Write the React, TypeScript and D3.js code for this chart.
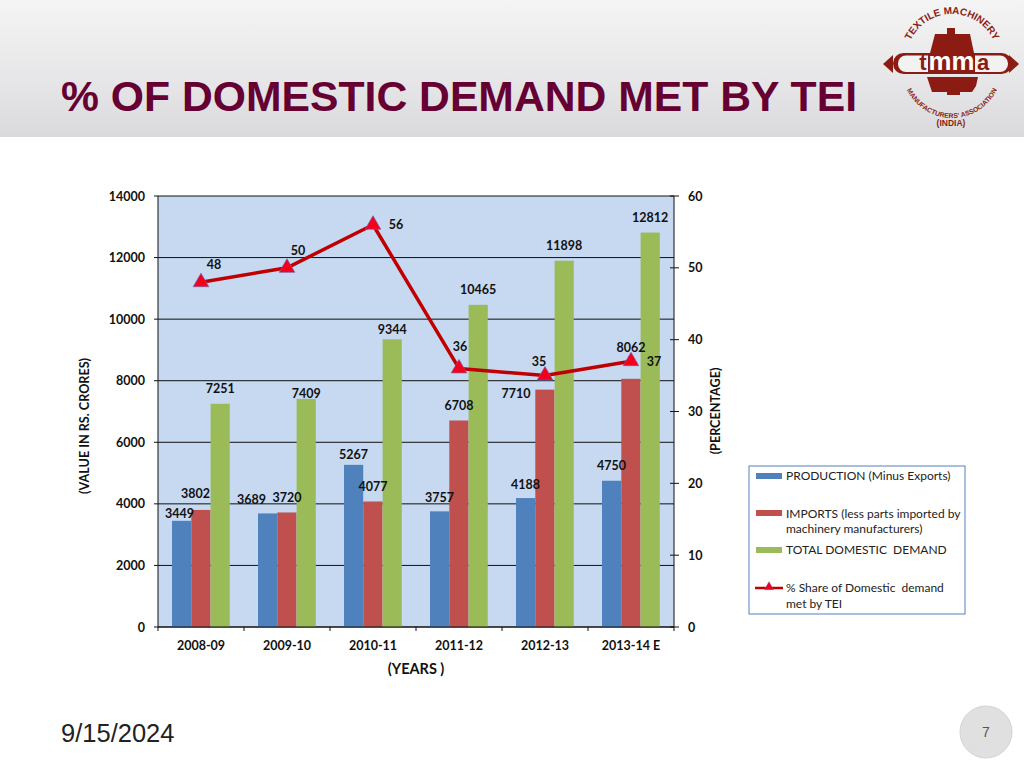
import React from "react";
import * as d3 from "d3";

const categories = ["2008-09", "2009-10", "2010-11", "2011-12", "2012-13", "2013-14 E"];
const production = [3449, 3689, 5267, 3757, 4188, 4750];
const imports = [3802, 3720, 4077, 6708, 7710, 8062];
const demand = [7251, 7409, 9344, 10465, 11898, 12812];
const share = [48, 50, 56, 36, 35, 37];
const leftTicks = [0, 2000, 4000, 6000, 8000, 10000, 12000, 14000];
const rightTicks = [0, 10, 20, 30, 40, 50, 60];

// label offsets in pixels from the top-centre of each mark
const prodLabelOff: [number, number][] = [[-2, -7], [-16, -14], [0, -10], [0, -14], [0, -14], [0, -15]];
const impLabelOff: [number, number][] = [[-5.5, -16], [0, -14.5], [0, -14.5], [0, -14.5], [-29, 3.5], [0, -31]];
const demLabelOff: [number, number][] = [[0, -15], [0, -5], [0, -10], [0, -15], [0, -15], [0, -15]];
const shareLabelOff: [number, number][] = [[13, -18], [11, -17], [23, 0], [1, -22], [-6, -14], [23, 0]];

const LABEL = "Lato, 'Open Sans', sans-serif";
const ARIAL = "'Liberation Sans', Arial, sans-serif";

const colors = { prod: "#4f81bd", imp: "#c0504d", dem: "#9bbb59", line: "#c00000" };

function Logo() {
  const c = "#8c1c13";
  return (
    <g>
      <defs>
        <path id="arcTop" d="M 906 60 A 46 46 0 0 1 998 60" fill="none" />
        <path id="arcBot" d="M 903 78 A 50 50 0 0 0 1001 78" fill="none" />
      </defs>
      <polygon points="947,28 955,28 955,34 970,34 974,53 930,53 935,34 947,34" fill={c} />
      <polygon points="927,77 978,77 976,86 972,92 960,92 960,95 947,95 947,92 932,92" fill={c} />
      <polygon points="883,64 893,55 893,73" fill={c} />
      <polygon points="1019,64 1009,55 1009,73" fill={c} />
      <rect x="893" y="53" width="119" height="21" rx="10.5" fill={c} />
      <rect x="898" y="55.5" width="110" height="16.5" rx="8" fill="#f2f2f2" />
      <rect x="928" y="53" width="47" height="21" fill={c} />
      <text x="951.5" y="70" textAnchor="middle" fontFamily={ARIAL} fontWeight="700" fontSize="25" fill="#fff" textLength="46" lengthAdjust="spacingAndGlyphs">mm</text>
      <text x="923" y="70" textAnchor="middle" fontFamily={ARIAL} fontWeight="700" fontSize="22" fill={c}>t</text>
      <text x="983" y="70" textAnchor="middle" fontFamily={ARIAL} fontWeight="700" fontSize="22" fill={c}>a</text>
      <text fontFamily={ARIAL} fontWeight="700" fontSize="10" fill={c}>
        <textPath href="#arcTop" startOffset="50%" textAnchor="middle">TEXTILE MACHINERY</textPath>
      </text>
      <text fontFamily={ARIAL} fontWeight="700" fontSize="6.8" fill={c}>
        <textPath href="#arcBot" startOffset="50%" textAnchor="middle">MANUFACTURERS' ASSOCIATION</textPath>
      </text>
      <text x="951" y="126" textAnchor="middle" fontFamily={ARIAL} fontWeight="700" fontSize="8.5" fill={c}>(INDIA)</text>
    </g>
  );
}

export default function App() {
  const W = 1024, H = 768;
  const x0 = 158, x1 = 674, yTop = 196, yBot = 627;
  const x = d3.scaleBand<string>().domain(categories).range([x0, x1]);
  const yL = d3.scaleLinear().domain([0, 14000]).range([yBot, yTop]);
  const yR = d3.scaleLinear().domain([0, 60]).range([yBot, yTop]);
  const bw = 19.2;
  const offs = [-29, -9.7, 9.6];
  const cx = (c: string) => x(c)! + x.bandwidth() / 2;
  const series = [
    { v: production, c: colors.prod, o: offs[0], l: prodLabelOff },
    { v: imports, c: colors.imp, o: offs[1], l: impLabelOff },
    { v: demand, c: colors.dem, o: offs[2], l: demLabelOff },
  ];
  const lineGen = d3.line<number>()
    .x((_, i) => cx(categories[i]))
    .y((d) => yR(d));
  const tri = d3.symbol().type(d3.symbolTriangle).size(105)();
  const textProps = { fontFamily: LABEL, fontWeight: 700, fontSize: 12.5, fill: "#111" };

  return (
    <svg width={W} height={H} viewBox={`0 0 ${W} ${H}`} style={{ position: "absolute", left: 0, top: 0, display: "block" }}>
      <defs>
        <linearGradient id="hdr" x1="0" y1="0" x2="0" y2="1">
          <stop offset="0" stopColor="#f4f4f4" />
          <stop offset="0.6" stopColor="#e6e6e8" />
          <stop offset="1" stopColor="#dadadc" />
        </linearGradient>
      </defs>
      <rect width={W} height={H} fill="#fff" />
      <rect width={W} height={137} fill="url(#hdr)" />
      <text x="61" y="111" fontFamily={ARIAL} fontWeight="700" fontSize="43" fill="#660033" textLength="796" lengthAdjust="spacingAndGlyphs">% OF DOMESTIC DEMAND MET BY TEI</text>
      <Logo />

      <rect x={x0} y={yTop} width={x1 - x0} height={yBot - yTop} fill="#c6d9f1" />
      {leftTicks.map((t) => (
        <g key={t}>
          <line x1={x0 - 4} x2={x1} y1={yL(t)} y2={yL(t)} stroke="#111" strokeWidth="1" />
          <text x={145} y={yL(t) + 4.5} textAnchor="end" {...textProps}>{t}</text>
        </g>
      ))}
      {rightTicks.map((t) => (
        <g key={t}>
          <line x1={x1 - 4} x2={x1 + 5} y1={yR(t)} y2={yR(t)} stroke="#111" strokeWidth="1" />
          <text x={688} y={yR(t) + 4.5} {...textProps}>{t}</text>
        </g>
      ))}
      <line x1={x0} x2={x0} y1={yTop} y2={yBot} stroke="#111" />
      <line x1={x1} x2={x1} y1={yTop} y2={yBot} stroke="#111" />
      {categories.map((c) => (
        <line key={c} x1={x(c)!} x2={x(c)!} y1={yBot} y2={yBot + 4} stroke="#111" />
      ))}
      <line x1={x1} x2={x1} y1={yBot} y2={yBot + 4} stroke="#111" />

      {series.map((s, k) => (
        <g key={k}>
          {categories.map((c, i) => (
            <rect key={c} x={cx(c) + s.o} y={yL(s.v[i])} width={bw} height={yBot - yL(s.v[i])} fill={s.c} />
          ))}
        </g>
      ))}
      <line x1={x0} x2={x1} y1={yBot} y2={yBot} stroke="#111" />

      <path d={lineGen(share)!} fill="none" stroke={colors.line} strokeWidth="3.5" strokeLinejoin="round" />
      {share.map((d, i) => (
        <path key={i} d={tri!} transform={`translate(${cx(categories[i])},${yR(d)})`} fill="#f4001a" stroke="#7a5aa8" strokeWidth="0.7" />
      ))}

      {series.map((s, k) => (
        <g key={k}>
          {categories.map((c, i) => (
            <text key={c} x={cx(c) + s.o + bw / 2 + s.l[i][0]} y={yL(s.v[i]) + s.l[i][1] + 4.5} textAnchor="middle" {...textProps}>{s.v[i]}</text>
          ))}
        </g>
      ))}
      {share.map((d, i) => (
        <text key={i} x={cx(categories[i]) + shareLabelOff[i][0]} y={yR(d) + shareLabelOff[i][1] + 4.5} textAnchor="middle" {...textProps}>{d}</text>
      ))}

      {categories.map((c) => (
        <text key={c} x={cx(c)} y={650} textAnchor="middle" {...textProps}>{c}</text>
      ))}
      <text x={416} y={674} textAnchor="middle" fontFamily={LABEL} fontWeight="700" fontSize="14.5" fill="#111">(YEARS )</text>
      <text transform="translate(89,426) rotate(-90)" textAnchor="middle" fontFamily={LABEL} fontWeight="700" fontSize="12.6" fill="#111">(VALUE IN RS. CRORES)</text>
      <text transform="translate(720,411) rotate(-90)" textAnchor="middle" fontFamily={LABEL} fontWeight="700" fontSize="12.6" fill="#111">(PERCENTAGE)</text>

      <rect x={749} y={466} width={216} height={148} fill="#fff" stroke="#4f81bd" strokeWidth="1" />
      <rect x={756} y={473} width={26} height={6} fill={colors.prod} />
      <rect x={756} y={510} width={26} height={6} fill={colors.imp} />
      <rect x={756} y={547} width={26} height={6} fill={colors.dem} />
      <line x1={755} x2={783} y1={588} y2={588} stroke={colors.line} strokeWidth="2.5" />
      <path d={d3.symbol().type(d3.symbolTriangle).size(36)()!} transform="translate(769,587)" fill="#f4001a" stroke="#7a5aa8" strokeWidth="0.5" />
      <g fontFamily={LABEL} fontSize="12" fill="#222">
        <text x={786} y={480}>PRODUCTION (Minus Exports)</text>
        <text x={786} y={518}>IMPORTS (less parts imported by</text>
        <text x={786} y={533}>machinery manufacturers)</text>
        <text x={786} y={554} style={{ whiteSpace: "pre" }}>TOTAL DOMESTIC  DEMAND</text>
        <text x={786} y={592} style={{ whiteSpace: "pre" }}>% Share of Domestic  demand</text>
        <text x={786} y={608}>met by TEI</text>
      </g>

      <text x={61} y={742} fontFamily={ARIAL} fontSize="25.5" fill="#222">9/15/2024</text>
      <circle cx={986} cy={732} r={26} fill="#e0e0e0" stroke="#d4d4d4" />
      <text x={986} y={737} textAnchor="middle" fontFamily={ARIAL} fontSize="14" fill="#555">7</text>
    </svg>
  );
}
